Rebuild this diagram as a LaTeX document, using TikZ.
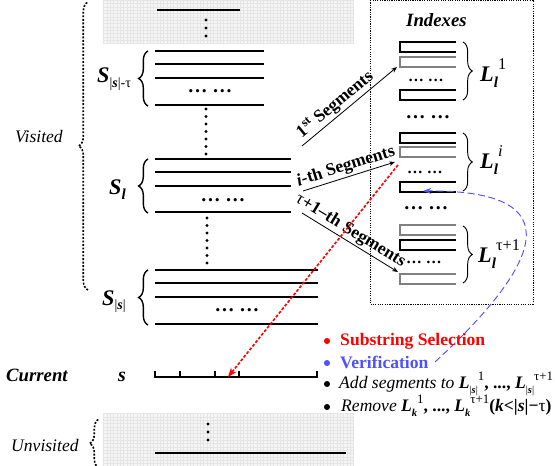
\documentclass[tikz,border=0pt]{standalone}
\usepackage{fontspec}
\setmainfont{Liberation Serif}
\usetikzlibrary{calc,arrows.meta,decorations.pathreplacing,positioning}
\definecolor{verblue}{RGB}{80,80,255}
\newcommand{\bi}[1]{\textbf{\textit{#1}}}
\newcommand{\biglab}[3]{\bi{#1}\raisebox{-0.5ex}{\fontsize{13}{13}\selectfont #2}\raisebox{1.2ex}{\fontsize{14}{14}\selectfont #3}}
\newcommand{\smalllab}[3]{\bi{#1}\raisebox{-0.5ex}{\fontsize{9}{9}\selectfont #2}\raisebox{1.05ex}{\fontsize{11}{11}\selectfont #3}}
\tikzset{
  strline/.style={line width=1.6pt},
  idxline/.style={line width=0.9pt},
  sbrace/.style={decorate,decoration={brace,amplitude=8pt},line width=1.2pt},
  lbrace/.style={decorate,decoration={brace,amplitude=8pt},line width=0.8pt},
  dotbrace/.style={decorate,decoration={brace,amplitude=8pt},line width=1.4pt,dash pattern=on 1.6pt off 1.4pt},
  shade/.style={fill=gray!8},
  gridline/.style={step=1mm,gray!20,line width=0.2pt},
  txt/.style={anchor=base west,inner sep=0pt,font=\fontsize{15}{18}\selectfont},
  biglbl/.style={anchor=base west,inner sep=0pt,font=\fontsize{19}{20}\selectfont},
  seglab/.style={sloped,above,inner sep=1.5pt,font=\fontsize{15}{15}\selectfont\bfseries},
  segarrow/.style={-{Stealth[length=5pt,width=4pt]},line width=0.7pt},
  selarrow/.style={-{Stealth[length=8pt,width=6pt]},red,line width=1.4pt,dash pattern=on 2.5pt off 1.5pt},
  verarrow/.style={-{Stealth[length=7pt,width=5pt]},verblue,line width=0.8pt,dash pattern=on 6pt off 3pt},
  bigdots/.style={inner sep=0pt,font=\fontsize{17}{17}\selectfont\bfseries},
  smalldots/.style={inner sep=0pt,font=\fontsize{13.5}{13.5}\selectfont\bfseries}
}
\begin{document}
\begin{tikzpicture}[x=0.3mm,y=-0.3mm]
	\useasboundingbox (0,0) rectangle (555,466);
	% visited and unvisited areas
	\fill[shade] (103,0) rectangle (354,44);
	\draw[gridline] (103,0) grid (354,44);
	\fill[shade] (103,413) rectangle (354,466);
	\draw[gridline] (103,413) grid (354,466);
	\draw[strline] (157,10)--(240,10);
	\draw[strline] (155,453)--(346,453);
	\foreach \y in {20,28,36} \fill (206,\y) circle (1.3pt);
	\foreach \y in {424,432,440} \fill (208,\y) circle (1.3pt);
	\foreach \y in {109,116.5,...,155} \fill (206,\y) circle (1.3pt);
	\foreach \y in {218,225.5,...,264} \fill (207,\y) circle (1.3pt);
	% strings
	\foreach \y in {51,64,78,105} \draw[strline] (155,\y)--(264,\y);
	\foreach \y in {159,172,186,212} \draw[strline] (155,\y)--(291,\y);
	\foreach \y in {270,283,297,324} \draw[strline] (155,\y)--(318,\y);
	\node[bigdots] (dStau) at (210,91) {… …};
	\node[bigdots] (dSl) at (223,200) {… …};
	\node[bigdots] (dSs) at (237,310) {… …};
	\draw[sbrace] (148,106)--(148,51);
	\draw[sbrace] (148,213)--(148,159);
	\draw[sbrace] (148,325)--(148,270);
	\node[biglbl] (Stau) at (97,83) {\bi{S}\raisebox{-0.45ex}{\fontsize{12}{12}\selectfont |\bi{s}|-τ}};
	\node[biglbl] (Sl) at (109,195) {\bi{S}\raisebox{-0.45ex}{\fontsize{13}{13}\selectfont\bi{l}}};
	\node[biglbl] (Ss) at (102,305) {\bi{S}\raisebox{-0.45ex}{\fontsize{12}{12}\selectfont |\bi{s}|}};
	\draw[dotbrace] (88,290)--(88,2);
	\node[txt] (visited) at (15,143) {\textit{Visited}};
	\draw[dotbrace] (99,468)--(99,419);
	\node[txt] (unvisited) at (11,452) {\textit{Unvisited}};
	% current string
	\node[txt,font=\fontsize{16}{18}\selectfont] (current) at (6,382) {\bi{Current}};
	\node[txt,font=\fontsize{17}{18}\selectfont] (curs) at (118,382) {\bi{s}};
	\draw[strline] (155,371)--(155,377)--(317,377)--(317,371);
	\foreach \x in {180,215,239} \draw[strline] (\x,371)--(\x,377);
	% indexes
	\draw[line width=0.8pt,dash pattern=on 1pt off 1pt] (370,0) rectangle (533,304);
	\node[txt,font=\fontsize{16}{18}\selectfont] (idxtitle) at (406,27) {\bi{Indexes}};
	\foreach \t/\c in {42/black,57/gray,90/black,133/black,147/gray,182/black,225/gray,240/black,274/gray}
		\draw[idxline,\c] (456,\t) -| (400,\t+10) -- (456,\t+10);
	\node[smalldots] (dL1) at (426,80) {… …};
	\node[smalldots] (dLi) at (425,172) {… …};
	\node[smalldots] (dLt) at (424,262) {… …};
	\node[bigdots] (gap1) at (428,117) {… …};
	\node[bigdots] (gap2) at (426,208) {… …};
	\draw[lbrace] (463,42)--(463,100);
	\draw[lbrace] (463,133)--(463,191);
	\draw[lbrace] (463,226)--(463,283);
	\node[biglbl] (L1) at (480,82) {\biglab{L}{\bi{l}}{1}};
	\node[biglbl] (Li) at (480,169) {\biglab{L}{\bi{l}}{\textit{i}}};
	\node[biglbl] (Lt) at (478,263) {\biglab{L}{\bi{l}}{τ+1}};
	% segments
	\coordinate (seg1) at (302,146);
	\coordinate (segi) at (303,191);
	\coordinate (segt) at (302,213);
	\coordinate (idx1) at (397,67);
	\coordinate (idxi) at (395,162);
	\coordinate (idxt) at (398,272);
	\draw[segarrow] (seg1) -- node[seglab,pos=0.42] {1\textsuperscript{st} Segments} (idx1);
	\draw[segarrow] (segi) -- node[seglab,pos=0.5] {\textit{i}-th Segments} (idxi);
	\draw[segarrow] (segt) -- node[seglab,pos=0.45] {\mdseries τ\bfseries+1--th Segments} (idxt);
	% selection and verification
	\coordinate (isel) at (398,165);
	\coordinate (cursel) at (228,377);
	\draw[selarrow] (isel) -- (cursel);
	\coordinate (verstart) at (435,362);
	\coordinate (veridx) at (423,191);
	\draw[verarrow] (verstart) .. controls (540,265) and (575,190) .. (veridx);
	% legend
	\fill[red] (327,341) circle (2.6pt);
	\fill[verblue] (327,363) circle (2.6pt);
	\fill (327,384) circle (2.6pt);
	\fill (327,407) circle (2.6pt);
	\node[txt,text=red] (sel) at (340,346) {\textbf{Substring Selection}};
	\node[txt,text=verblue] (ver) at (340,368) {\textbf{Verification}};
	\node[txt] (add) at (339,389) {\textit{Add segments to} \smalllab{L}{|\bi{s}|}{1}\textbf{, ...,} \smalllab{L}{|\bi{s}|}{τ+1}};
	\node[txt] (rem) at (341,412) {\textit{Remove} \smalllab{L}{\bi{k}}{1}\textbf{, ...,} \smalllab{L}{\bi{k}}{τ+1}\textbf{(\textit{k}<|\textit{s}|−}τ\textbf{)}};
\end{tikzpicture}
\end{document}
